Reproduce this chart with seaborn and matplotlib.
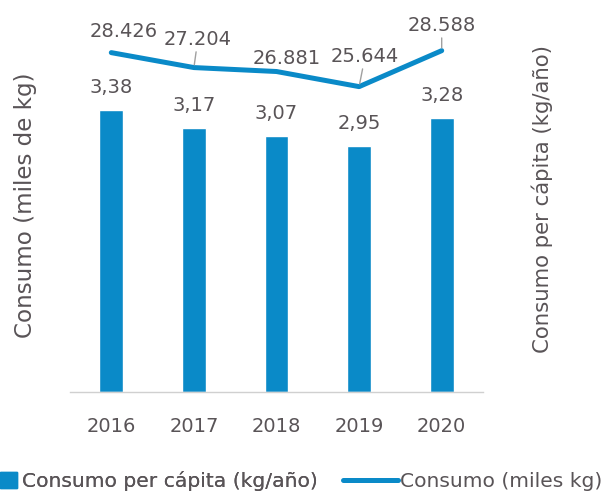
import matplotlib
matplotlib.use("Agg")
import matplotlib.pyplot as plt
from matplotlib.patches import Patch
from matplotlib.lines import Line2D
import numpy as np
import seaborn as sns

# data
years = ["2016", "2017", "2018", "2019", "2020"]
per_capita = [3.38, 3.17, 3.07, 2.95, 3.28]          # kg/año (bars)
consumo = [28426, 27204, 26881, 25644, 28588]        # miles kg (line)
per_capita_labels = ["3,38", "3,17", "3,07", "2,95", "3,28"]
consumo_labels = ["28.426", "27.204", "26.881", "25.644", "28.588"]

blue = "#0a8ac8"
gray = "#595457"

sns.set_theme(style="white")
plt.rcParams["font.family"] = ["DejaVu Sans"]

fig = plt.figure(figsize=(6.07, 4.92), dpi=100)
W, H = 607, 492
ax = fig.add_axes([70 / W, 100 / H, 413 / W, 362 / H])

sns.barplot(x=years, y=per_capita, color=blue, width=0.29, saturation=1, ax=ax)
ax.set_ylim(0, 4.34)
ax.set_yticks([])
ax.set_xlabel("")
ax.tick_params(axis="x", labelsize=14, colors=gray, pad=18, length=0)
for s in ["top", "right", "left"]:
    ax.spines[s].set_visible(False)
ax.spines["bottom"].set_color("#d0d0d0")
ax.spines["bottom"].set_linewidth(1)

ax.set_ylabel("Consumo (miles de kg)", fontsize=16.6, color=gray, va="center")
ax.yaxis.set_label_coords(26 / W, 1 - 205 / H, transform=fig.transFigure)

for i, (v, lab) in enumerate(zip(per_capita, per_capita_labels)):
    ax.annotate(lab, (i, v), xytext=(0, 17), textcoords="offset pixels",
                ha="center", va="baseline", fontsize=14, color=gray)

ax2 = ax.twinx()
sns.lineplot(x=np.arange(len(years)), y=consumo, color=blue, linewidth=3.6, ax=ax2)
ax2.set_ylim(655, 30278)
ax2.set_yticks([])
for s in ax2.spines.values():
    s.set_visible(False)
ax2.set_ylabel("Consumo per cápita (kg/año)", fontsize=15.3, color=gray,
               va="center", rotation=90)
ax2.yaxis.set_label_coords(542 / W, 1 - 199 / H, transform=fig.transFigure)

# keep the categorical limits of the bar chart after the line was added
ax.set_xlim(-0.5, len(years) - 0.5)

# label offsets (pixels) from each line point; leader lines where the reference has them
offsets = [(12, 16), (4, 23), (10, 8), (6, 25), (0, 20)]
leaders = [False, True, False, True, True]
for i, (v, lab) in enumerate(zip(consumo, consumo_labels)):
    dx, dy = offsets[i]
    kw = dict(xytext=(dx, dy), textcoords="offset pixels", ha="center",
              va="baseline", fontsize=14, color=gray)
    if leaders[i]:
        kw["arrowprops"] = dict(arrowstyle="-", color="#a0a0a0", lw=1,
                                shrinkA=0, shrinkB=2)
    ax2.annotate(lab, (i, v), **kw)

leg1 = fig.legend(handles=[Patch(color=blue, label="Consumo per cápita (kg/año)")],
                  loc="lower left", bbox_to_anchor=(-0.014, -0.014), frameon=False,
                  fontsize=14.6, handlelength=0.85, handleheight=0.85, handletextpad=0.25,
                  labelcolor=gray, borderaxespad=0)
fig.add_artist(leg1)
fig.legend(handles=[Line2D([], [], color=blue, linewidth=3.6, label="Consumo (miles kg)")],
           loc="lower left", bbox_to_anchor=(342 / W - 0.012, -0.014), frameon=False,
           fontsize=14.6, handlelength=2.7, handletextpad=0.1, labelcolor=gray,
           borderaxespad=0)

fig.savefig("out.png", dpi=100)
